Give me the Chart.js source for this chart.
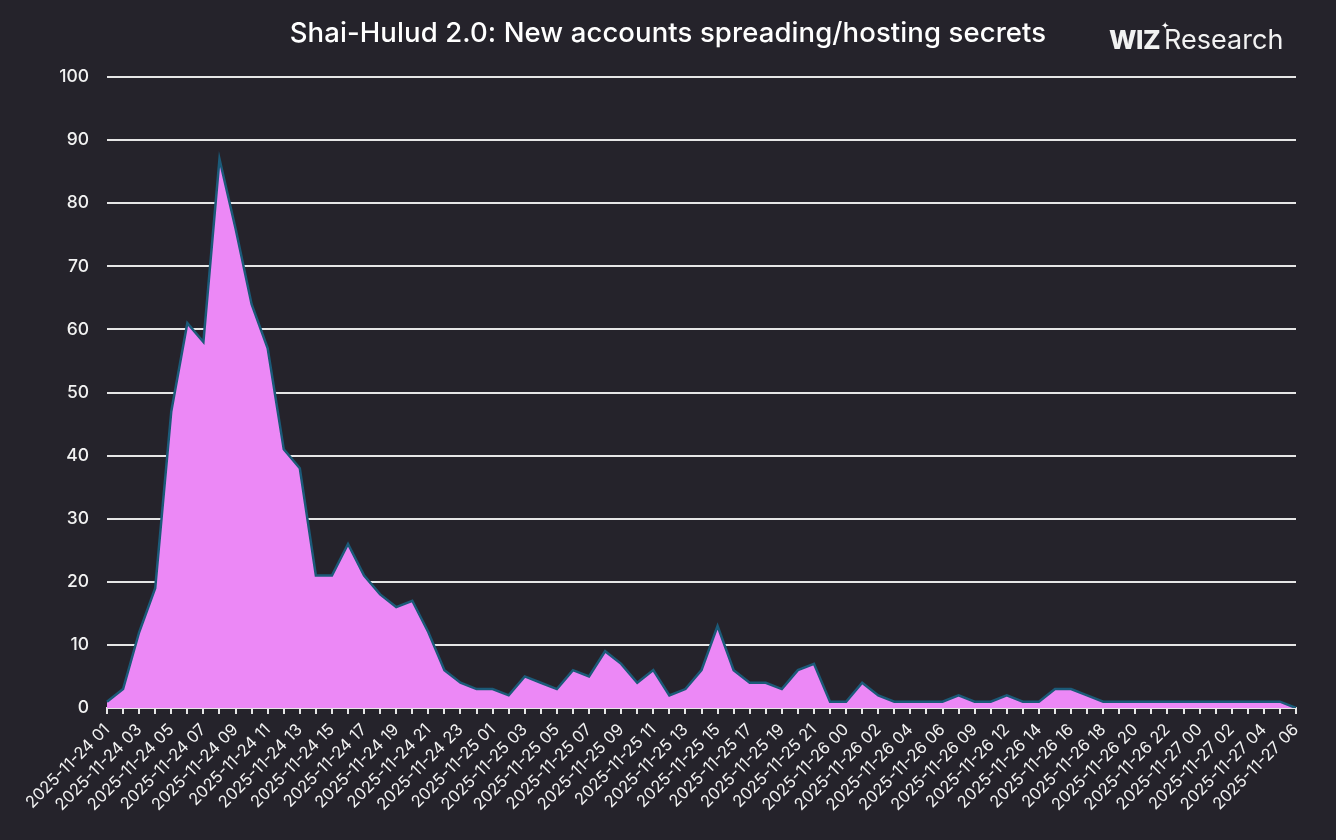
<!DOCTYPE html>
<html>
<head>
<meta charset="utf-8">
<script src="https://cdn.jsdelivr.net/npm/chart.js@4.4.1/dist/chart.umd.min.js"></script>
<style>
  html, body { margin: 0; padding: 0; background: #25232b; }
  #wrap { position: relative; width: 1336px; height: 840px; background: #25232b; }
  #title { position: absolute; left: 0; width: 1336px; top: 15px; text-align: center;
    font-family: Inter, "Noto Sans", sans-serif; font-size: 27.5px; font-weight: 500; color: #ffffff; letter-spacing: 0.1px; }
  #logo { position: absolute; left: 1109px; top: 24px; font-family: Inter, "Noto Sans", sans-serif;
    font-size: 26px; color: #f2f2f2; white-space: nowrap; line-height: 32px; }
  #logo b { font-weight: 800; letter-spacing: -0.5px; margin-right: 4px; }
  #logo .star { position: absolute; left: 52px; top: -3px; font-size: 10px; line-height: 10px;
    font-family: "DejaVu Sans", sans-serif; color: #ffffff; }
  #logo .r { font-size: 27px; }
  canvas { position: absolute; left: 0; top: 0; }
</style>
</head>
<body>
<div id="wrap">
  <canvas id="c" width="1336" height="840"></canvas>
  <div id="title">Shai-Hulud 2.0: New accounts spreading/hosting secrets</div>
  <div id="logo"><b>WIZ</b><span class="star">✦</span><span class="r">Research</span></div>
</div>
<script>
const categories = [
  "2025-11-24 01","2025-11-24 02","2025-11-24 03","2025-11-24 04","2025-11-24 05","2025-11-24 06",
  "2025-11-24 07","2025-11-24 08","2025-11-24 09","2025-11-24 10","2025-11-24 11","2025-11-24 12",
  "2025-11-24 13","2025-11-24 14","2025-11-24 15","2025-11-24 16","2025-11-24 17","2025-11-24 18",
  "2025-11-24 19","2025-11-24 20","2025-11-24 21","2025-11-24 22","2025-11-24 23",
  "2025-11-25 00","2025-11-25 01","2025-11-25 02","2025-11-25 03","2025-11-25 04","2025-11-25 05",
  "2025-11-25 06","2025-11-25 07","2025-11-25 08","2025-11-25 09","2025-11-25 10","2025-11-25 11",
  "2025-11-25 12","2025-11-25 13","2025-11-25 14","2025-11-25 15","2025-11-25 16","2025-11-25 17",
  "2025-11-25 18","2025-11-25 19","2025-11-25 20","2025-11-25 21","2025-11-25 23",
  "2025-11-26 00","2025-11-26 01","2025-11-26 02","2025-11-26 03","2025-11-26 04","2025-11-26 05",
  "2025-11-26 06","2025-11-26 08","2025-11-26 09","2025-11-26 11","2025-11-26 12","2025-11-26 13",
  "2025-11-26 14","2025-11-26 15","2025-11-26 16","2025-11-26 17","2025-11-26 18","2025-11-26 19",
  "2025-11-26 20","2025-11-26 21","2025-11-26 22","2025-11-26 23",
  "2025-11-27 00","2025-11-27 01","2025-11-27 02","2025-11-27 03","2025-11-27 04","2025-11-27 05",
  "2025-11-27 06"
];
const newAccounts = [
  1,3,12,19,47,61,58,87,76,64,
  57,41,38,21,21,26,21,18,16,17,
  12,6,4,3,3,2,5,4,3,6,
  5,9,7,4,6,2,3,6,13,6,
  4,4,3,6,7,1,1,4,2,1,
  1,1,1,2,1,1,2,1,1,3,
  3,2,1,1,1,1,1,1,1,1,
  1,1,1,1,0
];
const yTicks = [0,10,20,30,40,50,60,70,80,90,100];

const FONT = "Inter, 'Noto Sans', sans-serif";
new Chart(document.getElementById('c'), {
  type: 'line',
  data: {
    labels: categories,
    datasets: [{
      data: newAccounts,
      fill: 'origin',
      backgroundColor: '#ec88f6',
      borderColor: '#1b5a78',
      borderWidth: 2.5,
      pointRadius: 0,
      tension: 0
    }]
  },
  options: {
    responsive: false,
    animation: false,
    devicePixelRatio: 1,
    layout: { padding: { top: 77, right: 40, left: 0, bottom: 0 } },
    plugins: { legend: { display: false }, title: { display: false }, tooltip: { enabled: false } },
    scales: {
      x: {
        offset: false,
        grid: { display: true, drawOnChartArea: false, drawTicks: true, tickLength: 6, color: '#e6e6e6', lineWidth: 2 },
        border: { display: true, color: '#e6e6e6', width: 2 },
        ticks: {
          autoSkip: false, maxRotation: 45, minRotation: 45, color: '#f2f2f2', padding: 6,
          font: { family: FONT, size: 16.5 },
          callback: function(v, i) { return i % 2 === 0 ? categories[i] : ''; }
        },
        afterFit: function(s) { s.height = 132; }
      },
      y: {
        min: 0, max: 100,
        afterBuildTicks: function(s) { s.ticks = yTicks.map(v => ({ value: v })); },
        grid: { color: '#e6e6e6', lineWidth: 2, drawTicks: false },
        border: { display: false },
        ticks: { color: '#f2f2f2', padding: 18, font: { family: FONT, size: 17.5, weight: 500 } },
        afterFit: function(s) { s.width = 107; }
      }
    }
  }
});
</script>
</body>
</html>
